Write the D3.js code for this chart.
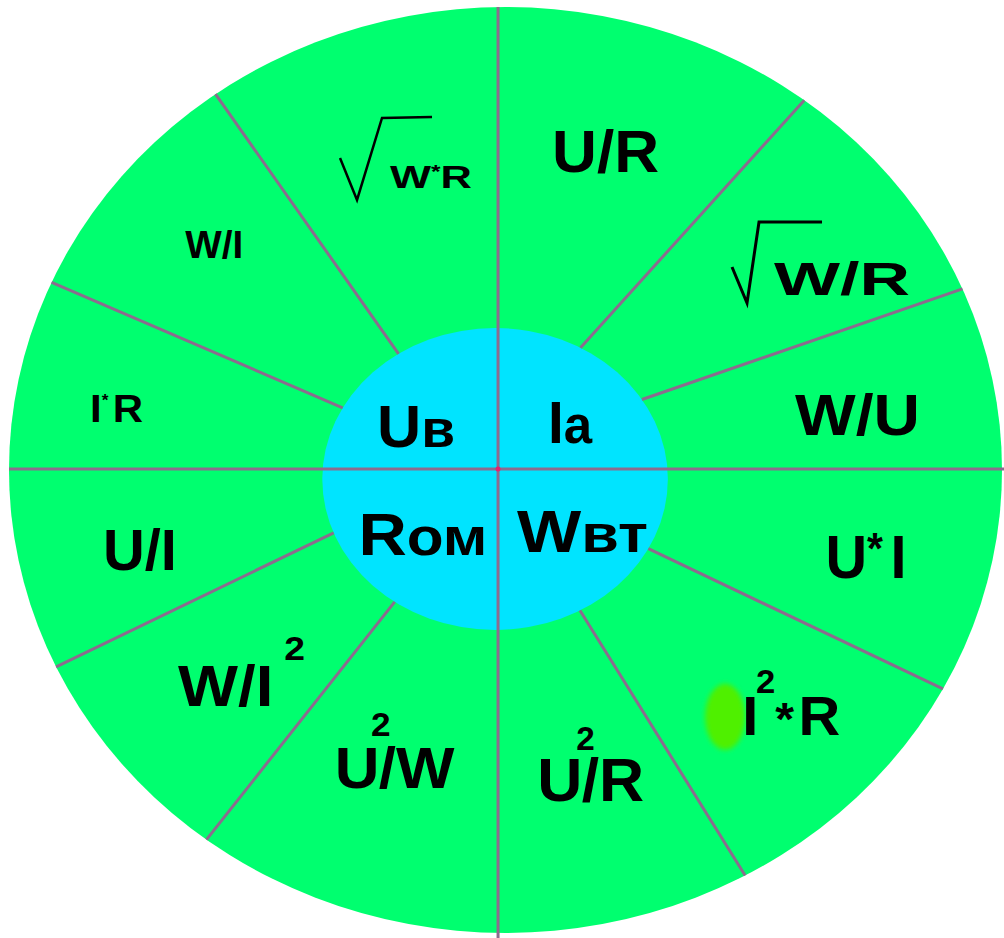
<!DOCTYPE html>
<html>
<head>
<meta charset="utf-8">
<script src="https://cdn.jsdelivr.net/npm/d3@7"></script>
<style>
html, body { margin: 0; padding: 0; background: #fff; }
svg { display: block; }
text { font-family: "Liberation Sans", Arial, sans-serif; font-weight: bold; fill: #000; }
</style>
</head>
<body>
<div id="area"></div>
<script>
// quantities in the hub and their (russian) units
var quantities = ['U', 'I', 'R', 'W'];
var units = ['в', 'а', 'ом', 'вт'];

// formulas round the rim, clockwise from 12 o'clock
var formulas = ['U/R', '√W/R', 'W/U', 'U*I', 'I²*R', 'U²/R', 'U²/W', 'W/I²', 'U/I', 'I*R', 'W/I', '√W*R'];

// divider spokes, angle (deg) where they leave the hub and where they meet the rim
var spokeInner = [55.8, 25.8, -27.9, -59.9, 232.1, 201.2, 158.5, 130.8];
var spokeOuter = [50.3, 21.2, -26.3, -58.7, 231.8, 204.1, 157.3, 127.0];

// ---- layout (polar, in rim units) ----
var hubPos = [[169.1, .2635], [34.3, .1036], [211.8, .3484], [-82.5, .1786]];
var hubWidth = [78, 45, 129, 131];

var formulaPos = [[81.7, .6504], [34.95, .6598], [7.39, .588], [-19.9, .6854], [-50.2, .7446], [-84.9, .7177],
                  [243.4, .7679], [217.7, .8336], [194.9, .839], [172.9, .8433], [144.6, .7914], [110.9, .652]];
var formulaStyle = [
  {size: 60, w: 107},
  {size: 46, w: 136, root: [[-42, -28], [-27, 8], [-15, -73], [48, -73]], rootW: 3},
  {size: 58, w: 125},
  {size: 62, w: 81, ast: 44, astRise: 14, afterAst: 8},
  {size: 55, w: 98, sup: 33, rise: 42, supDx: -2, ast: 46, afterSup: 3, afterAst: 4},
  {size: 62, w: 107, sup: 33, rise: 51, supDx: -6, afterSup: -13},
  {size: 58, w: 120, sup: 33, rise: 52, supDx: -8, afterSup: -11},
  {size: 58, w: 127, sup: 34, rise: 46, supDx: 10},
  {size: 58, w: 74},
  {size: 39, w: 53, ast: 16, astRise: 16, afterAst: 4},
  {size: 39, w: 58},
  {size: 32, w: 82, ast: 18, astRise: 10, root: [[-50, -30], [-33, 12], [-8, -70], [42, -71]], rootW: 2.5}
];

var width = 1004, height = 938;
var rim_color = '#00ff6f',
    hub_color = '#00e4ff',
    line_color = '#8c6c8e';

var svg = d3.select('#area').append('svg')
    .attr('width', width)
    .attr('height', height);

// rim units -> pixels
var x = d3.scaleLinear().domain([-1, 1]).range([9, 1002]);
var y = d3.scaleLinear().domain([-1, 1]).range([933, 7]);

var rim = {cx: x(0), cy: y(0), rx: x(1) - x(0), ry: y(0) - y(1)};
var hub = {cx: x(-0.021), cy: y(-0.0194), rx: x(0.348) - x(0), ry: y(0) - y(0.326)};
var cross = {x: x(-0.015), y: y(0.002)};

function polar(p) {
  var a = p[0] * Math.PI / 180;
  return [x(p[1] * Math.cos(a)), y(p[1] * Math.sin(a))];
}

// where a ray from the crossing point meets an ellipse
function rayHit(deg, e) {
  var a = deg * Math.PI / 180,
      dx = Math.cos(a), dy = -Math.sin(a),
      px = cross.x - e.cx, py = cross.y - e.cy;
  var A = dx * dx / (e.rx * e.rx) + dy * dy / (e.ry * e.ry),
      B = 2 * (px * dx / (e.rx * e.rx) + py * dy / (e.ry * e.ry)),
      C = px * px / (e.rx * e.rx) + py * py / (e.ry * e.ry) - 1;
  var t = (-B + Math.sqrt(B * B - 4 * A * C)) / (2 * A);
  return [cross.x + t * dx, cross.y + t * dy];
}

var defs = svg.append('defs');
defs.append('filter').attr('id', 'smudge')
  .append('feGaussianBlur').attr('stdDeviation', 2.5);

svg.append('ellipse')
    .attr('cx', rim.cx).attr('cy', rim.cy)
    .attr('rx', rim.rx).attr('ry', rim.ry)
    .attr('fill', rim_color);

svg.append('ellipse')
    .attr('cx', hub.cx).attr('cy', hub.cy)
    .attr('rx', hub.rx).attr('ry', hub.ry)
    .attr('fill', hub_color);

// the two full cross lines
var rimLeft = rayHit(180, rim), rimTop = rayHit(90, rim);
svg.append('line')
    .attr('x1', rimLeft[0]).attr('y1', cross.y).attr('x2', width).attr('y2', cross.y)
    .attr('stroke', line_color).attr('stroke-width', 3);
svg.append('line')
    .attr('x1', cross.x).attr('y1', rimTop[1]).attr('x2', cross.x).attr('y2', height)
    .attr('stroke', line_color).attr('stroke-width', 3);

svg.selectAll('line.spoke')
    .data(d3.range(spokeInner.length))
    .enter().append('line')
    .attr('class', 'spoke')
    .each(function(i) {
      var a = rayHit(spokeInner[i], hub), b = rayHit(spokeOuter[i], rim);
      d3.select(this).attr('x1', a[0]).attr('y1', a[1]).attr('x2', b[0]).attr('y2', b[1]);
    })
    .attr('stroke', line_color).attr('stroke-width', 3);

svg.append('circle')
    .attr('cx', cross.x).attr('cy', cross.y).attr('r', 2.5)
    .attr('fill', '#e8206e');

// green smudge left of I²*R
var sm = polar(formulaPos[4]);
svg.append('ellipse')
    .attr('cx', sm[0] - 17).attr('cy', sm[1] - 18)
    .attr('rx', 20).attr('ry', 33)
    .attr('fill', '#50f000')
    .attr('filter', 'url(#smudge)');

// stretch a text node to the wanted width
function fit(text, p, w) {
  var bw = text.node().getBBox().width;
  text.attr('transform', 'translate(' + p[0] + ',' + p[1] + ') scale(' + (w / bw) + ',1)');
}

// hub labels
quantities.forEach(function(q, i) {
  var p = polar(hubPos[i]);
  var t = svg.append('text').attr('font-size', 60);
  t.append('tspan').text(q);
  t.append('tspan').attr('font-size', 54).text(units[i]);
  fit(t, p, hubWidth[i]);
});

// rim formulas
formulas.forEach(function(f, i) {
  var s = formulaStyle[i], p = polar(formulaPos[i]);
  var t = svg.append('text').attr('font-size', s.size);
  var parts = f.replace('√', '').split(/([²*])/).filter(Boolean);
  var cur = 0, prev = null;
  parts.forEach(function(part) {
    var span = t.append('tspan'), want = 0, dx = 0;
    if (part == '²') {
      span.text('2').attr('font-size', s.sup);
      want = -s.rise; dx = s.supDx || 0;
    } else if (part == '*') {
      span.text('*').attr('font-size', s.ast);
      want = -(s.astRise || 0); dx = s.astDx || 0;
    } else {
      span.text(part);
      if (prev == '²') dx = s.afterSup || 0;
      if (prev == '*') dx = s.afterAst || 0;
    }
    if (want != cur) span.attr('dy', want - cur);
    if (dx) span.attr('dx', dx);
    cur = want;
    prev = part;
  });
  fit(t, p, s.w);

  if (s.root) {
    svg.append('path')
        .attr('d', d3.line()(s.root.map(function(r) { return [p[0] + r[0], p[1] + r[1]]; })))
        .attr('fill', 'none')
        .attr('stroke', '#000')
        .attr('stroke-width', s.rootW)
        .attr('stroke-linejoin', 'miter');
  }
});
</script>
</body>
</html>
